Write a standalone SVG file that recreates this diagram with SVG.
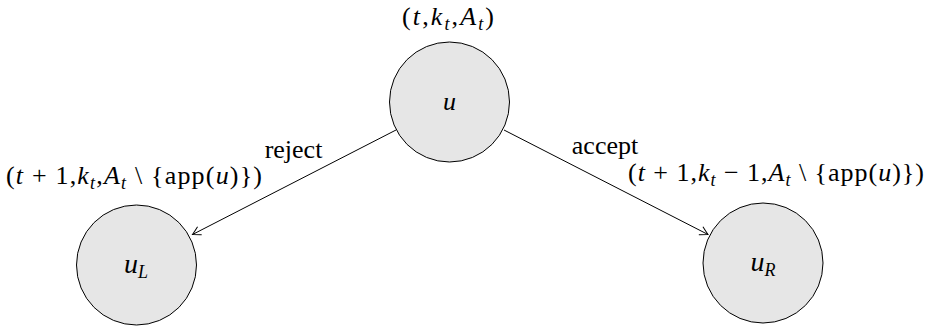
<svg xmlns="http://www.w3.org/2000/svg" width="928" height="327" viewBox="0 0 928 327">
<style>
.node{fill:#e6e6e6;stroke:#000;stroke-width:1}
.t{font-family:"Liberation Serif","DejaVu Serif",serif;font-size:26px;fill:#000}
.m{font-style:italic}
.s{font-size:18px}
.edge{stroke:#000;stroke-width:1;fill:none}
</style>
<defs>
<marker id="arr" markerWidth="14" markerHeight="12" refX="10" refY="6" orient="auto" markerUnits="userSpaceOnUse">
<path d="M2,1.5 Q7,4.5 10,6 Q7,7.5 2,10.5" fill="none" stroke="#000" stroke-width="1"/>
</marker>
</defs>
<g id="connectors">
<line class="edge" x1="396" y1="130" x2="192.5" y2="234.5" marker-end="url(#arr)"/>
<line class="edge" x1="504" y1="130" x2="708" y2="234.5" marker-end="url(#arr)"/>
<text class="t" x="293.5" y="158" text-anchor="middle">reject</text>
<text class="t" x="605" y="154" text-anchor="middle">accept</text>
</g>
<g id="u">
<circle class="node" cx="449.5" cy="102" r="60"/>
<text class="t m" x="449.5" y="110" text-anchor="middle" font-size="28">u</text>
<text class="t" x="448" y="25" text-anchor="middle" textLength="92" lengthAdjust="spacing">(<tspan class="m">t</tspan>,<tspan class="m">k</tspan><tspan class="m s" dy="5">t</tspan><tspan dy="-5">,</tspan><tspan class="m">A</tspan><tspan class="m s" dy="5">t</tspan><tspan dy="-5">)</tspan></text>
</g>
<g id="uL">
<circle class="node" cx="136.5" cy="265" r="60"/>
<text class="t" x="136" y="273" text-anchor="middle"><tspan class="m" font-size="28">u</tspan><tspan class="m s" dy="5">L</tspan></text>
<text class="t" x="134" y="184" text-anchor="middle" textLength="256" lengthAdjust="spacing">(<tspan class="m">t</tspan> + 1,<tspan class="m">k</tspan><tspan class="m s" dy="5">t</tspan><tspan dy="-5">,</tspan><tspan class="m">A</tspan><tspan class="m s" dy="5">t</tspan><tspan dy="-5"> \ {app(</tspan><tspan class="m">u</tspan>)})</text>
</g>
<g id="uR">
<circle class="node" cx="763" cy="263" r="60"/>
<text class="t" x="763" y="271" text-anchor="middle"><tspan class="m" font-size="28">u</tspan><tspan class="m s" dy="5">R</tspan></text>
<text class="t" x="776" y="181" text-anchor="middle" textLength="296" lengthAdjust="spacing">(<tspan class="m">t</tspan> + 1,<tspan class="m">k</tspan><tspan class="m s" dy="5">t</tspan><tspan dy="-5"> − 1,</tspan><tspan class="m">A</tspan><tspan class="m s" dy="5">t</tspan><tspan dy="-5"> \ {app(</tspan><tspan class="m">u</tspan>)})</text>
</g>
</svg>
